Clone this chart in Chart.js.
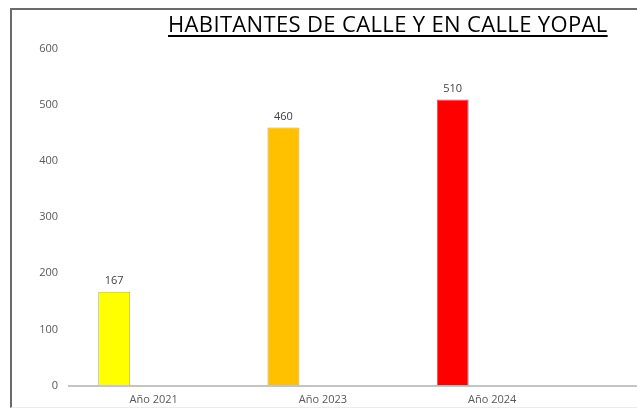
<!DOCTYPE html>
<html lang="es">
<head>
  <meta charset="UTF-8">
  <title>Habitantes de calle y en calle Yopal</title>
  <script src="https://cdn.jsdelivr.net/npm/chart.js"></script>
  <style>
    html, body {
      margin: 0;
      padding: 0;
      width: 637px;
      height: 408px;
      overflow: hidden;
      background: #fff;
      font-family: 'Open Sans', Arial, sans-serif;
    }
    .marco {
      position: absolute;
      left: 10px;
      top: 8px;
      width: 700px;
      height: 397px;
      border-top: 2px solid #6b6b6b;
      border-left: 2px solid #6b6b6b;
      border-bottom: 1px solid #ececec;
    }
    .titulo {
      position: absolute;
      left: 168px;
      top: 8px;
      font-size: 22px;
      letter-spacing: 0.35px;
      color: #000;
      text-decoration: underline;
      text-underline-offset: 3px;
      white-space: nowrap;
      z-index: 2;
    }
    .grafico {
      position: absolute;
      left: 0;
      top: 0;
      width: 780px;
      height: 408px;
    }
  </style>
</head>
<body>
  <div class="marco"></div>
  <div class="titulo">HABITANTES DE CALLE Y EN CALLE YOPAL</div>
  <div class="grafico">
    <canvas id="chart"></canvas>
  </div>

<script>
  // categorias del eje x (la ultima queda vacia, fuera del recorte)
  const anios = ['Año 2021', 'Año 2023', 'Año 2024', ''];
  const habitantes = [167, 460, 510];
  // segunda serie sin datos, como en la hoja original
  const serie2 = [null, null, null];
  const coloresBarra = ['#ffff00', '#ffc000', '#ff0000'];
  const bordesBarra = ['#b4b86a', '#c9a64a', '#8a6a9e'];
  const ticksY = [0, 100, 200, 300, 400, 500, 600];

  const fuente = '"Open Sans", Arial, sans-serif';

  // etiqueta con el valor encima de cada barra
  const etiquetas = {
    id: 'etiquetas',
    afterDatasetsDraw(chart) {
      const ctx = chart.ctx;
      const meta = chart.getDatasetMeta(0);
      ctx.save();
      ctx.font = '11px ' + fuente;
      ctx.fillStyle = '#404040';
      ctx.textAlign = 'center';
      ctx.textBaseline = 'bottom';
      meta.data.forEach((bar, i) => {
        ctx.fillText(habitantes[i], bar.x, bar.y - 5);
      });
      ctx.restore();
    }
  };

  new Chart(document.getElementById('chart'), {
    type: 'bar',
    data: {
      labels: anios,
      datasets: [
        {
          label: 'Habitantes',
          data: habitantes,
          backgroundColor: coloresBarra,
          borderColor: bordesBarra,
          borderWidth: 1,
          categoryPercentage: 0.932,
          barPercentage: 0.405
        },
        {
          label: 'Serie 2',
          data: serie2,
          categoryPercentage: 0.932,
          barPercentage: 0.405
        }
      ]
    },
    options: {
      responsive: true,
      maintainAspectRatio: false,
      animation: false,
      layout: {
        padding: { top: 49, right: 34, bottom: 0, left: 0 }
      },
      plugins: {
        legend: { display: false },
        tooltip: { enabled: false },
        title: { display: false }
      },
      scales: {
        x: {
          grid: { display: false, drawTicks: false },
          border: { display: true, color: '#c4c4c4', width: 2 },
          ticks: {
            color: '#595959',
            font: { family: fuente, size: 11 },
            padding: 8,
            maxRotation: 0,
            autoSkip: false
          },
          afterFit: s => { s.height = 22.5; }
        },
        y: {
          min: 0,
          max: 600,
          grid: { display: false, drawTicks: false },
          border: { display: false },
          afterBuildTicks: s => { s.ticks = ticksY.map(v => ({ value: v })); },
          ticks: {
            color: '#595959',
            font: { family: fuente, size: 11 },
            padding: 11
          },
          afterFit: s => { s.width = 69; }
        }
      }
    },
    plugins: [etiquetas]
  });
</script>
</body>
</html>
